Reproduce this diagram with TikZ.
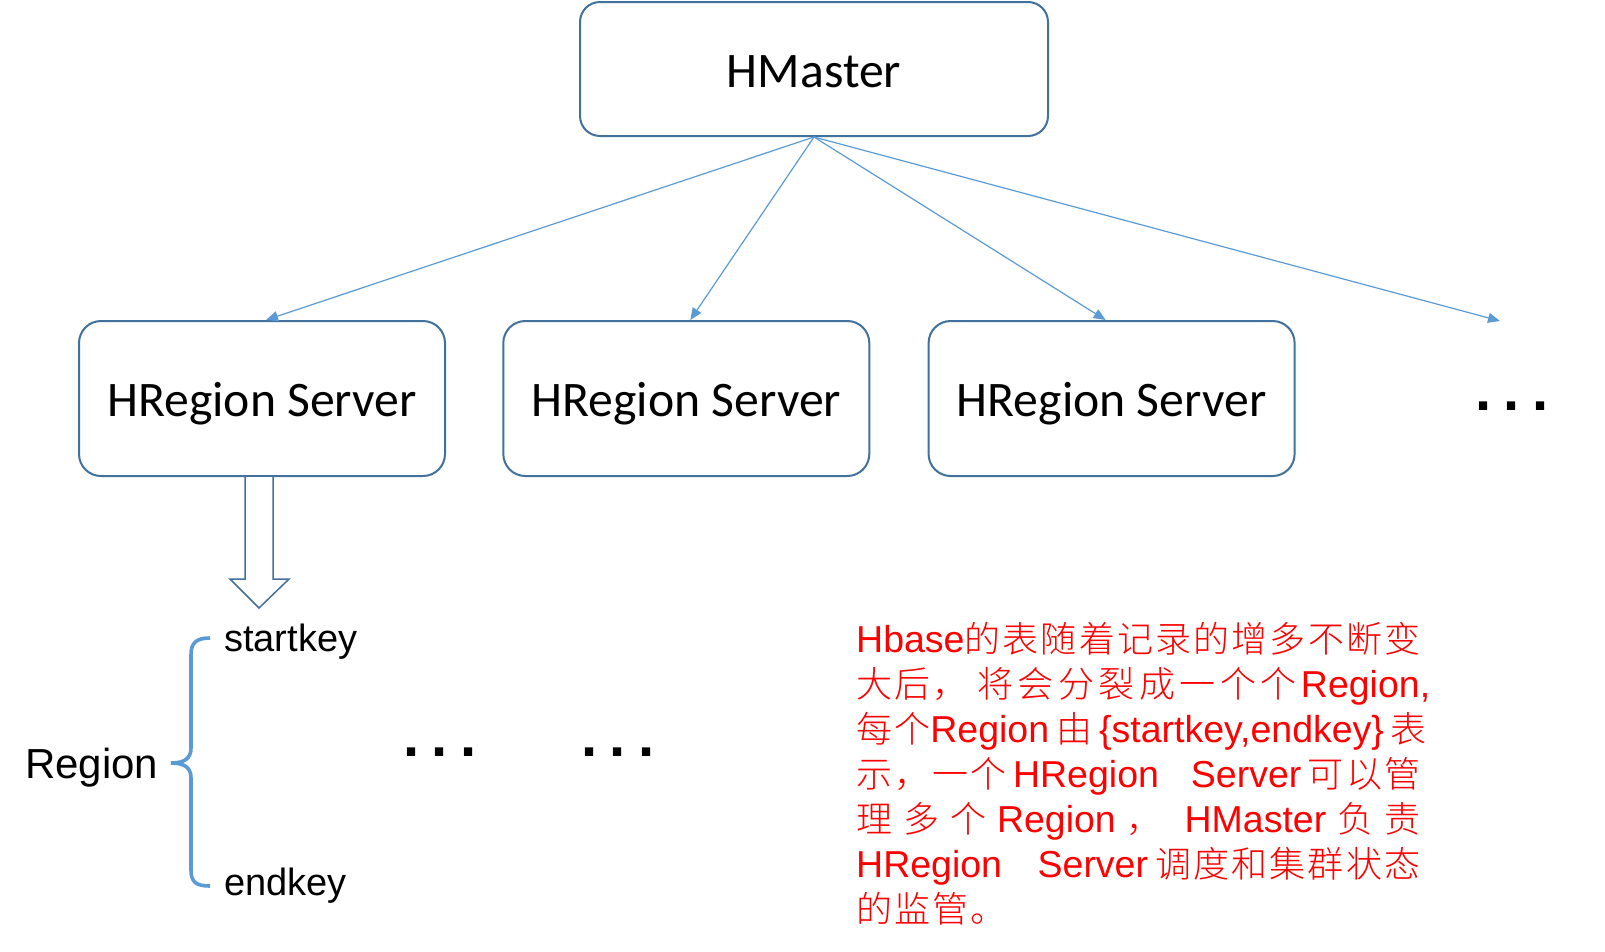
\documentclass[tikz,border=0pt]{standalone}
\usepackage{fontspec}
\usetikzlibrary{arrows.meta,calc}
\newfontfamily\calib{Carlito}
\newfontfamily\arialf{Liberation Sans}
\newfontfamily\cjk[LetterSpace=6,UprightFont={* Light}]{Noto Sans CJK SC}
\definecolor{boxblue}{HTML}{41719C}
\definecolor{lineblue}{HTML}{5B9BD5}
\definecolor{txtred}{HTML}{FF0000}
\newcommand\C[1]{{\fontsize{36pt}{40pt}\cjk #1}}
\newcommand\lat[1]{{\fontsize{37.5pt}{40pt}\arialf #1}}
\newcommand\redline[2][564pt]{\makebox[#1][s]{#2}}
\newcommand\gl[1]{\hspace{0pt plus #1fil}}
\newcommand\sqdots{{\fontsize{58pt}{58pt}\arialf\bfseries .\hspace{12pt}.\hspace{12pt}.}}
\begin{document}
\begin{tikzpicture}[x=1pt,y=-1pt,
  box/.style={draw=boxblue, line width=2pt, rounded corners=22pt, fill=white,
    minimum width=366pt, minimum height=155pt, text height=36pt, text depth=0pt,
    inner sep=0pt, font=\fontsize{49.7pt}{49.7pt}\calib},
  link/.style={draw=lineblue, line width=1.2pt, -{Triangle[length=12pt,width=10pt]}},
  keytext/.style={anchor=base west, inner sep=0pt, font=\fontsize{38pt}{38pt}\arialf},
  dotsnode/.style={inner sep=0pt},
  redtext/.style={anchor=base west, inner sep=0pt, text=txtred, font=\fontsize{37.5pt}{40pt}\arialf}]
\useasboundingbox (0,0) rectangle (1605,951);
\fill[white] (0,0) rectangle (1605,951);

\node[box, minimum width=468pt, minimum height=134pt, rounded corners=20pt] (hm) at (814,69) {HMaster};
\node[box] (r1) at (262,398.5) {HRegion Server};
\node[box] (r2) at (686.3,398.5) {HRegion Server};
\node[box] (r3) at (1111.6,398.5) {HRegion Server};
\coordinate (more) at (1500,321);

\draw[link] (hm.south) -- ($(r1.north)+(4,0)$);
\draw[link] (hm.south) -- ($(r2.north)+(4,0)$);
\draw[link] (hm.south) -- ($(r3.north)+(-6,0)$);
\draw[link] (hm.south) -- (more);

\node[dotsnode] (d0) at (1512,406) {\sqdots};

% hollow block arrow
\draw[boxblue, line width=1.5pt, fill=white, line join=miter]
  ($(r1.south)+(-17,0)$) -- ($(r1.south)+(-17,102)$) -- ($(r1.south)+(-32,102)$)
  -- ($(r1.south)+(-3,131)$) -- ($(r1.south)+(27,102)$) -- ($(r1.south)+(11,102)$)
  -- ($(r1.south)+(11,0)$);

% brace
\draw[lineblue, line width=3.6pt]
  (210,638) .. controls (196,638) and (191,643) .. (191,655)
  -- (191,748) .. controls (191,758) and (185,763) .. (171,763)
  .. controls (185,763) and (191,768) .. (191,778)
  -- (191,870) .. controls (191,882) and (196,886) .. (210,886);

\node[keytext] (sk) at (224,651) {startkey};
\node[keytext] (ek) at (224,895) {endkey};
\node[keytext, font=\fontsize{42pt}{42pt}\arialf] (rg) at (25,778) {Region};

\node[dotsnode] (d1) at (440,752) {\sqdots};
\node[dotsnode] (d2) at (618,752) {\sqdots};

% red description
\node[redtext] (t1) at (856,652) {\lat{Hbase}\C{的表随着记录的增多不断变}};
\node[redtext] (t2) at (856,697) {\redline[574pt]{\C{大}\C{后}\C{，}\gl{2}\C{将}\gl{1}\C{会}\gl{1}\C{分}\gl{1}\C{裂}\gl{1}\C{成}\gl{1}\C{一}\gl{1}\C{个}\gl{1}\C{个}\gl{1}\lat{Region,}}};
\node[redtext] (t3) at (856,742) {\redline{\C{每个}\lat{Region} \C{由} \lat{\{startkey,endkey\}} \C{表}}};
\node[redtext] (t4) at (856,787) {\redline{\C{示，一个}\gl{1}\lat{HRegion}\gl{5}\lat{Server}\gl{1}\C{可以管}}};
\node[redtext] (t5) at (856,832) {\redline{\C{理} \C{多} \C{个} \lat{Region} \C{，} \ \lat{HMaster} \C{负} \C{责}}};
\node[redtext] (t6) at (856,877) {\redline{\lat{HRegion}\gl{5}\lat{Server}\gl{1}\C{调度和集群状态}}};
\node[redtext] (t7) at (856,922) {\C{的监管。}};
\end{tikzpicture}
\end{document}
